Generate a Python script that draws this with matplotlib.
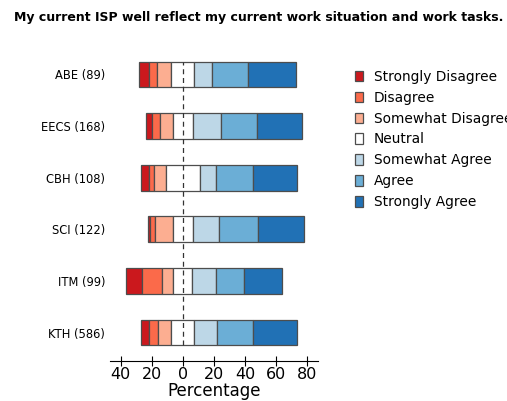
import matplotlib.pyplot as plt
import numpy as np

schools = ['ABE (89)', 'EECS (168)', 'CBH (108)', 'SCI (122)', 'ITM (99)', 'KTH (586)']
levels = ['Strongly Disagree', 'Disagree', 'Somewhat Disagree', 'Neutral',
          'Somewhat Agree', 'Agree', 'Strongly Agree']
colors = ['#cb181d', '#fb6a4a', '#fcae91', '#ffffff', '#bdd7e7', '#6baed6', '#2171b5']

# percentages per answer, one list per school
strongly_disagree = [6.1, 4.3, 4.9, 1.3, 10.3, 5.3]
disagree = [5.5, 4.7, 3.6, 3.4, 13.3, 5.6]
somewhat_disagree = [9.0, 8.5, 7.6, 11.4, 7.1, 8.8]
neutral = [14.6, 12.9, 21.6, 12.8, 12.2, 14.8]
somewhat_agree = [11.4, 17.8, 10.7, 17.1, 15.0, 14.8]
agree = [23.5, 23.3, 23.4, 24.7, 18.2, 22.7]
strongly_agree = [30.7, 28.8, 28.5, 29.8, 24.5, 28.7]

xticks = [-40, -20, 0, 20, 40, 60, 80]

data = np.array([strongly_disagree, disagree, somewhat_disagree, neutral,
                 somewhat_agree, agree, strongly_agree])

fig = plt.figure(figsize=(5.07, 4.01), dpi=100)
ax = fig.add_axes([0.217, 0.1, 0.41, 0.785])

bar_h = 0.5
ypos = np.arange(len(schools))[::-1]
left = -(data[0] + data[1] + data[2] + data[3] / 2)
for i, lev in enumerate(levels):
    ax.barh(ypos, data[i], left=left, height=bar_h, color=colors[i],
            edgecolor='#4d4d4d', linewidth=0.9, label=lev)
    left = left + data[i]

# dashed zero line, from top of first bar to bottom of last bar
ax.vlines(0, ypos.min() - bar_h / 2, ypos.max() + bar_h / 2, color='#333333',
          linestyle=(0, (4, 3)), linewidth=0.9, zorder=3)

ax.set_xlim(-46.8, 86.8)
ax.set_ylim(-0.55, 5.55)
ax.set_yticks(ypos)
ax.set_yticklabels(schools, fontsize=8.3)
ax.set_xticks(xticks)
ax.set_xticklabels([str(abs(t)) for t in xticks], fontsize=11.5)
ax.tick_params(axis='y', length=0)
ax.tick_params(axis='x', direction='inout', length=7, pad=1)
ax.set_xlabel('Percentage', fontsize=12, labelpad=0)
for s in ['top', 'left', 'right']:
    ax.spines[s].set_visible(False)

ax.legend(loc='upper left', bbox_to_anchor=(1.117, 0.964), frameon=False,
          fontsize=9.9, handlelength=0.6, handleheight=0.8, handletextpad=0.8,
          labelspacing=0.5)

fig.text(0.51, 0.957, 'My current ISP well reflect my current work situation and work tasks.',
         ha='center', va='center', fontsize=9, fontweight='bold')

fig.savefig('out.png', dpi=100)
